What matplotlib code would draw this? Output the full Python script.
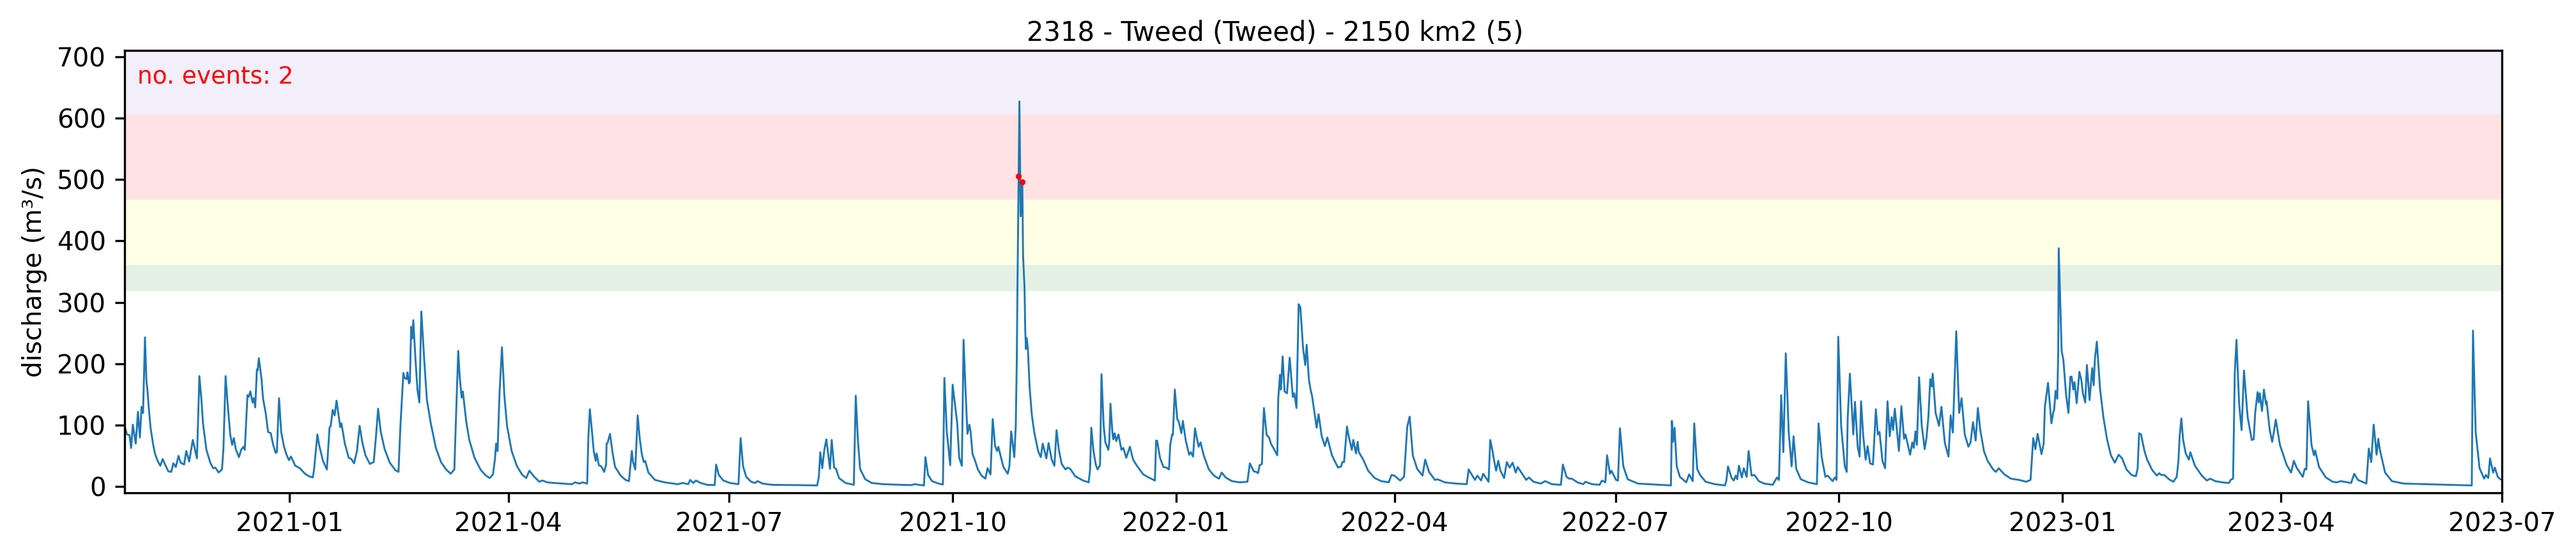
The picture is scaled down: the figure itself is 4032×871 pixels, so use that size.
from datetime import datetime, timedelta
import matplotlib
matplotlib.use("Agg")
import matplotlib.pyplot as plt
import matplotlib.dates as mdates

TITLE = "2318 - Tweed (Tweed) - 2150 km2 (5)"
YLABEL = "discharge (m³/s)"
EVENT_LABEL = "no. events: 2"
BASE_DATE = datetime(2021, 1, 1)

# (days since 2021-01-01, discharge in m3/s)
period_a = [(-68.2,52),(-67.8,96),(-67,85),(-66,84),(-65.3,63),(-64.6,101),(-63.4,70),(-62.5,122),(-61.7,80),(-61,130),(-60.4,120),(-59.6,243),(-59,172),(-58.6,158),(-58,127),(-57.3,96),(-56.3,70),(-55.5,54),(-54.4,42),(-53.3,34),(-52.3,45),(-51.2,35),(-50,25),(-48.8,24),(-47.9,38),(-46.9,32),(-45.8,50),(-44.9,39),(-43.5,36),(-42.6,58),(-41.4,41),(-39.9,76),(-38.2,46),(-37.2,180),(-36.4,144),(-35.7,103),(-34.3,60),(-32.7,39),(-31.5,30),(-30.6,31),(-29.3,23),(-27.9,28),(-27.3,61),(-26.4,180),(-25.6,137),(-24.5,85),(-23.7,68),(-23,79),(-22.2,61),(-20.9,48),(-20,60),(-19,65),(-18.5,60),(-17.4,149),(-16.9,146),(-16.2,155),(-15.3,137),(-14.8,144),(-14.2,129),(-13.5,191),(-13.2,189),(-12.7,209),(-11.6,175),(-11,144),(-9.9,120),(-8.9,89),(-7.8,87),(-6.8,68),(-5.8,55),(-5.3,56),(-4.4,144),(-3.5,89),(-2.4,66),(-1.4,53),(-0.3,43),(0.5,49),(2.3,34),(4.2,30),(6.3,21),(7.9,17),(9.5,15),(10,27),(11.4,85),(12.1,68),(13.7,42),(15.3,28),(16.4,96),(16.9,99),(17.7,125),(18.5,116),(19.3,140),(20,120),(20.8,97),(21.3,103),(22.7,70),(24.3,47),(25.4,45),(26.5,38),(27.7,58),(28.8,99),(29.9,72),(31.2,51),(33,37),(34.6,40),(35.6,85),(36.4,127),(37.5,89),(39.1,61),(41.2,39),(43.5,27),(44.8,24),(45.6,99),(46.8,185),(47.3,177),(48.1,175),(48.5,186),(49.1,168),(49.5,170),(50,260),(50.4,241),(50.9,271),(51.8,207),(52.6,158),(53.4,137),(54.2,285),(55.5,200),(56.5,141),(58.1,103),(60.2,63),(62.3,40),(64.4,28),(66.3,21),(67.8,28),(68.4,103),(69.4,221),(70,179),(70.8,145),(71.3,155),(72.7,106),(73.9,77),(76.1,47),(78.7,27),(80.8,18),(82.4,14),(83.7,20),(84.5,44),(85,70),(85.6,58),(86.4,151),(87.4,227),(88.4,148),(89.5,99),(91.4,58),(93.5,34),(95.6,20)]
period_b = [(97.4,14),(98.7,26),(100.7,16),(102.8,8),(104.1,10),(106.1,7),(108.8,6),(116.2,4),(117.5,7),(119.3,5),(120.6,7),(122.5,5),(123,82),(123.6,126),(124.5,89),(125.2,58),(126,42),(126.4,54),(127.3,35),(128.3,33),(129.5,24),(130.3,36),(130.5,70),(130.9,71),(131.9,86),(133,54),(134,32),(136.3,18),(138.3,11),(139.7,9),(140.3,33),(140.9,58),(141.4,40),(142.3,28),(143.3,116),(144.1,80),(145,53),(145.8,40),(146.4,42),(147.7,23),(150.4,11),(154.4,7),(159.8,4),(161.8,6),(164.1,4),(164.9,11),(166.2,6),(167.3,10),(169.2,6),(171.9,3),(175,2.5),(175.6,36),(176.7,19),(178.6,10),(181.3,6),(184.8,4),(185.7,79),(186.7,33),(188,16),(190,8),(191.6,6),(192.7,9),(194.7,5),(198.7,3),(209.4,2.5),(217.2,2),(217.9,16),(218.5,56),(219.3,30),(220.2,61),(221,77),(221.5,61),(222.5,29),(223.2,76),(224.2,31),(225,29),(226.2,14),(228.9,6),(232.3,3),(233.1,148),(234,75),(234.9,29),(237,12),(239.7,6),(244.4,4),(255.8,2.5),(257.4,4),(261.2,2),(261.8,48),(262.9,19),(264.5,9),(267.2,5),(269,3.5),(269.6,177),(270.6,89),(272,35),(273,166),(274.9,103)]
period_c = [(275.7,47),(276.8,34),(277.5,239),(278.3,158),(279.1,86),(279.9,101),(280.4,89),(281.2,53),(282.1,44),(283.4,28),(284.9,18),(286.5,13),(287.4,30),(288.6,20),(289.5,110),(290.5,66),(291.3,58),(291.8,65),(292.9,48),(293.9,32),(295.7,21),(296.4,34),(297.1,90),(298.4,48),(299,99),(299.4,200),(299.7,324),(300.5,627),(301,440),(301.7,496),(302,376),(302.6,324),(302.9,255),(303.2,224),(303.5,242),(304,224),(304.7,162),(305.6,117),(306.6,89),(308.2,58),(309.3,48),(310.1,70),(311.6,46),(312.5,71),(313.8,44),(314.9,34),(315.8,92),(316.7,61),(317.9,37),(319.5,28),(320.4,31),(321.4,29),(323.5,17),(326.7,10),(329,7),(329.6,27),(330.1,96),(331,58),(332,35),(332.7,28),(333.7,35),(334.3,183),(335.2,99),(335.9,72),(337.1,60),(337.5,72),(338,135),(338.9,82),(339.2,77),(339.7,87),(340.4,74),(341.3,85),(342.5,60),(343.3,63),(344.5,47),(346,65),(347.3,44),(348.9,34),(351.5,20),(353.7,15),(356.3,10),(356.8,75),(357.2,75),(358.4,47),(359.8,32),(361,31),(362.1,28),(362.6,68),(363.4,85),(363.7,84),(364.5,158),(365.5,110),(366.1,106),(367.2,87),(367.8,107),(369,75),(370.4,52),(371.1,56),(372,49),(372.8,95),(374.3,65),(375.1,72),(376.4,51),(378.5,28),(380.6,18),(382.7,13),(383.8,23),(385.4,15),(388,9),(391.2,7),(394.4,8),(394.9,23),(395.4,38),(397,25),(398,24),(398.8,22),(399.4,35),(400.4,37),(400.7,82),(401.2,128),(402.3,84),(403.3,80),(404.1,70),(405.5,60),(406.7,51),(407.1,144),(407.8,182),(408.2,158),(408.9,212),(409.7,155),(410.7,152),(411.8,210),(413.1,146),(413.7,152),(414.6,128),(415.5,297),(416.2,292),(417.3,226),(418.2,198),(418.8,231),(419.7,175),(420.4,158),(421,148),(422.9,96),(423.7,118),(425,82),(426.3,66),(427.3,80),(429.2,51),(431.7,31),(433,33),(433.5,40),(434.2,40),(435.4,98),(436.1,82),(437.4,60),(438,76),(439.1,54),(439.8,73),(440.3,56)]
period_d = [(442.1,44),(444.1,26),(446.8,14),(449.5,9),(452.6,7),(453.7,19),(454.9,18),(457.3,10),(458.9,16),(460.2,97),(461.2,114),(462.5,51),(464.3,29),(466.5,18),(467.6,44),(469.2,24),(471.6,11),(472.7,12),(475.7,7),(480.4,5),(484.7,4),(485.5,28),(488.1,11),(489.1,18),(490.6,10),(491.5,21),(493.7,8),(494.4,76),(495.2,61),(496.1,40),(496.8,26),(497.7,42),(498.6,26),(500.1,14),(501.2,40),(502.4,31),(503.6,39),(504.9,23),(505.7,32),(507.2,23),(509.2,11),(510.3,15),(512.2,8),(515.2,5),(517,9),(519.8,4),(523.5,3),(524.3,36),(525.8,16),(526.9,13),(528,13),(530.3,7),(532.7,4),(533.6,8),(536.3,4),(539.4,3),(540.4,10),(541.8,7),(542.5,51),(543.7,21),(544.3,26),(546.2,11),(547,10),(547.8,95),(549.2,33),(551,12),(555.2,5),(568.8,2),(569.2,107),(569.7,73),(570.3,96),(571.2,33),(572.5,16),(575.1,7),(576.3,20),(577.8,9),(578.4,103),(579.6,29),(580.8,19),(583.1,8),(586.9,4),(591,2),(591.6,9),(592.3,33),(593.8,14),(594.7,10),(595.5,18),(596.1,12),(596.8,34),(598,15),(598.8,30),(600,16),(600.8,58),(602,18),(603.2,19),(605,9),(607.2,5),(610.7,3),(612.5,15),(613.3,11),(614.2,149),(615.1,56),(616.1,217),(617.3,89),(618.5,33),(619.3,82),(620.4,29),(622.3,12),(625.3,7),(628.9,4),(629.6,103),(630.9,48),(632.4,16),(633.3,18),(635.4,9),(636.3,15),(637,11),(637.7,244),(638.9,99),(640.4,33),(641.2,24),(641.6,112),(642.5,184),(643.9,85),(644.6,138),(645.7,65),(646.5,49),(647.1,139),(648,82),(649,44),(649.8,66),(650.8,38),(652,36),(653.2,126),(654,85),(654.7,89),(655.9,42),(657,30),(658,139),(658.9,82),(659.7,113),(660.3,92),(661,127),(662.7,58),(663.7,131),(664.8,78),(665.4,85),(667.3,52),(668.2,72),(668.8,63),(669.5,90),(670.1,68),(671,178),(672.1,99),(673.3,61),(674,78),(674.8,112),(675.6,175),(676.2,163),(676.6,184),(677.8,120),(679.2,99),(680.2,130),(681.6,71),(683.1,49),(684,116),(684.9,88),(686.3,253),(687.5,120),(688.5,144),(689.8,85),(691.3,65),(692.2,72),(693.2,105),(694.3,75),(695.2,128),(696.2,92),(697.7,58),(699.2,42),(701.5,28),(702.6,24),(703.8,30),(706.1,20),(708.8,13),(712.1,11),(715.1,8),(716.9,11)]
period_e = [(718,79),(718.9,61),(719.8,86),(721.4,53),(722.3,70),(722.8,130),(724.1,169),(725.5,103),(726.3,122),(726.6,124),(727.2,156),(727.9,143),(728.3,217),(728.5,388),(729.7,221),(730.4,207),(731.5,151),(732.5,120),(733.3,179),(733.8,179),(734.5,158),(735,170),(735.9,136),(737,187),(737.8,174),(738.5,151),(739.4,137),(740.1,198),(741.2,141),(742.3,193),(742.9,165),(743.4,208),(744.2,236),(745.5,160),(746.9,113),(748.4,77),(750,51),(751.6,39),(753.2,52),(754.6,46),(756.4,28),(758.5,19),(760.3,17),(761,30),(761.6,87),(762.4,85),(763.8,58),(764.9,44),(767,27),(768.9,18),(769.9,22),(770.7,19),(772,19),(773.9,12),(775.7,8),(777.1,16),(777.8,42),(778.3,82),(779,111),(779.7,77),(780.8,54),(782.1,44),(782.7,56),(784.6,34),(787.4,18),(789.5,10),(790.9,13),(793,9),(795.8,7),(798.6,6),(799.3,11),(800.3,13),(801,185),(801.7,239),(802.8,134),(803.8,92),(804.8,189),(806.3,113),(808,76),(808.8,77),(809.4,120),(810.4,154),(810.9,137),(811.3,152),(812.2,123),(813,158),(813.9,134),(814.1,139),(815.4,92),(816.4,73),(817.1,89),(817.9,109),(819.6,68),(822.4,35),(824.2,23),(825.3,42),(826.6,30),(829,16),(829.8,29),(830.5,28),(831.2,139),(832.6,68),(833.6,51),(834.1,59),(835.7,32),(838.5,15),(841.3,8),(843,7),(844.7,9),(848.9,6),(850.2,21),(851.7,11),(855.2,5),(856.2,62),(857.2,40),(858.2,101),(859.4,52),(860.1,78),(860.8,59),(862.9,23),(865.7,9),(870.6,5),(898.6,2),(899.1,254),(900.2,89),(901.8,30),(903.7,13),(904.4,19),(905.4,14),(906.1,46),(907.4,23),(908.1,31),(909.3,16),(910.4,12)]
event_days = [300.1, 301.7]
event_flows = [505, 496]

# return-period thresholds (m3/s) and band colours
band_edges = [318, 361, 467, 606]
band_colors = ["#E5F1E5", "#FFFFE5", "#FFE3E4", "#F2EFFA"]

X_START = datetime(2020, 10, 25)
X_END = datetime(2023, 7, 1)
Y_MIN, Y_MAX = -10, 710

def to_date(d):
    return BASE_DATE + timedelta(days=d)

readings = period_a + period_b + period_c + period_d + period_e
dates = [to_date(d) for d, _ in readings]
flows = [v for _, v in readings]

plt.rcParams["font.family"] = "DejaVu Sans"
fig = plt.figure(figsize=(13.44, 871 / 300), dpi=300)
ax = fig.add_axes([195 / 4032, 1 - 772 / 871, (3916 - 195) / 4032, (772 - 79) / 871])

tops = band_edges[1:] + [Y_MAX]
for lo, hi, c in zip(band_edges, tops, band_colors):
    ax.axhspan(lo, hi, color=c, lw=0, zorder=0)

ax.plot(dates, flows, color="C0", lw=0.7, zorder=2)
ax.scatter([to_date(d) for d in event_days], event_flows, color="red", s=5, zorder=3, lw=0)

ax.set_xlim(X_START, X_END)
ax.set_ylim(Y_MIN, Y_MAX)
ax.xaxis.set_major_locator(mdates.MonthLocator(bymonth=[1, 4, 7, 10]))
ax.xaxis.set_major_formatter(mdates.DateFormatter("%Y-%m"))
ax.set_ylabel(YLABEL, fontsize=9.7, labelpad=3.5)
ax.tick_params(labelsize=9.7)
ax.set_title(TITLE, fontsize=10, pad=3.5, x=0.484)
ax.text(0.0055, 0.965, EVENT_LABEL, transform=ax.transAxes, color="red", fontsize=9, va="top", ha="left")

fig.savefig("out.png", dpi=300)
